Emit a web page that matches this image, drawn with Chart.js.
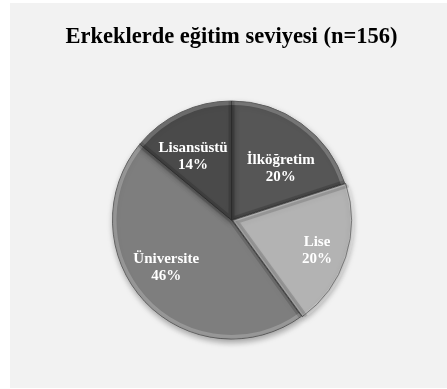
<!DOCTYPE html>
<html lang="tr">
<head>
<meta charset="utf-8">
<title>Erkeklerde eğitim seviyesi</title>
<script src="https://cdn.jsdelivr.net/npm/chart.js@4"></script>
<style>
    html, body { margin: 0; padding: 0; background: #ffffff; }
    #chartBox {
        position: absolute;
        left: 10px;
        top: 3px;
        width: 437px;
        height: 385px;
        background: #f2f2f2;
    }
</style>
</head>
<body>
<div id="chartBox"><canvas id="eduChart" width="437" height="385"></canvas></div>
<script>
// Education level among men, share in percent
const categories = ['İlköğretim', 'Lise', 'Üniversite', 'Lisansüstü'];
const percentages = [20, 20, 46, 14];

const sliceColors = ['#565656', '#b3b3b3', '#7e7e7e', '#4a4a4a'];
const sliceOffsets = [0, 4, 0, 0];
// small pixel nudges so the labels sit where the spreadsheet put them
const labelShift = [[3, 12], [7, 5], [-8, -6], [-5, 8]];

const titleText = 'Erkeklerde eğitim seviyesi (n=156)';
const serif = '"Liberation Serif", "Times New Roman", serif';

//////////////////////////////////////////////
// Title drawn by hand (keeps the exact size)
//////////////////////////////////////////////
const titlePlugin = {
    id: 'bigTitle',
    afterDraw(chart) {
        const ctx = chart.ctx;
        ctx.save();
        ctx.fillStyle = '#000000';
        ctx.font = 'bold 22.5px ' + serif;
        ctx.textAlign = 'center';
        ctx.textBaseline = 'middle';
        ctx.fillText(titleText, chart.chartArea.left + (chart.chartArea.right - chart.chartArea.left) / 2, 34);
        ctx.restore();
    }
};

//////////////////////////////////////////////
// Soft shadow under the pie
//////////////////////////////////////////////
const shadowPlugin = {
    id: 'pieShadow',
    beforeDatasetsDraw(chart) {
        const ctx = chart.ctx;
        ctx.save();
        ctx.shadowColor = 'rgba(0,0,0,0.35)';
        ctx.shadowBlur = 6;
        ctx.shadowOffsetX = 1;
        ctx.shadowOffsetY = 3;
    },
    afterDatasetsDraw(chart) {
        chart.ctx.restore();
    }
};

//////////////////////////////////////////////
// Bevel highlight + value labels
//////////////////////////////////////////////
const bevelLabelPlugin = {
    id: 'bevelLabels',
    afterDatasetsDraw(chart) {
        const ctx = chart.ctx;
        const meta = chart.getDatasetMeta(0);

        meta.data.forEach((arc, i) => {
            const p = arc.getProps(['x', 'y', 'startAngle', 'endAngle', 'outerRadius']);
            const mid = (p.startAngle + p.endAngle) / 2;
            const off = sliceOffsets[i];
            const cx = p.x + Math.cos(mid) * off;
            const cy = p.y + Math.sin(mid) * off;

            // inner rim, lighter on the outer edge, darker on the straight edges
            ctx.save();
            ctx.beginPath();
            ctx.moveTo(cx, cy);
            ctx.arc(cx, cy, p.outerRadius, p.startAngle, p.endAngle);
            ctx.closePath();
            ctx.clip();

            ctx.lineJoin = 'round';
            ctx.strokeStyle = 'rgba(255,255,255,0.2)';
            ctx.lineWidth = 8;
            ctx.beginPath();
            ctx.arc(cx, cy, p.outerRadius, p.startAngle, p.endAngle);
            ctx.stroke();

            ctx.strokeStyle = 'rgba(0,0,0,0.14)';
            ctx.lineWidth = 6;
            ctx.beginPath();
            ctx.moveTo(cx + Math.cos(p.startAngle) * p.outerRadius, cy + Math.sin(p.startAngle) * p.outerRadius);
            ctx.lineTo(cx, cy);
            ctx.lineTo(cx + Math.cos(p.endAngle) * p.outerRadius, cy + Math.sin(p.endAngle) * p.outerRadius);
            ctx.stroke();
            ctx.restore();
        });

        // labels on top of everything
        ctx.save();
        ctx.fillStyle = '#ffffff';
        ctx.font = 'bold 15px ' + serif;
        ctx.textAlign = 'center';
        ctx.textBaseline = 'middle';
        meta.data.forEach((arc, i) => {
            const p = arc.getProps(['x', 'y', 'startAngle', 'endAngle', 'outerRadius']);
            const mid = (p.startAngle + p.endAngle) / 2;
            const r = p.outerRadius * 0.66 + sliceOffsets[i];
            const lx = p.x + Math.cos(mid) * r + labelShift[i][0];
            const ly = p.y + Math.sin(mid) * r + labelShift[i][1];
            ctx.fillText(categories[i], lx, ly - 8.5);
            ctx.fillText(percentages[i] + '%', lx, ly + 8.5);
        });
        ctx.restore();
    }
};

//////////////////////////////////////////////
// Chart Initialization
//////////////////////////////////////////////
function initChart() {
    const ctx = document.getElementById('eduChart').getContext('2d');
    return new Chart(ctx, {
        type: 'pie',
        data: {
            labels: categories,
            datasets: [{
                data: percentages,
                backgroundColor: sliceColors,
                borderColor: 'rgba(45,45,45,0.7)',
                borderWidth: 1,
                offset: sliceOffsets
            }]
        },
        options: {
            responsive: false,
            animation: false,
            layout: {
                padding: { left: 100, right: 94, top: 95, bottom: 46 }
            },
            plugins: {
                legend: { display: false },
                tooltip: { enabled: false },
                title: { display: false }
            }
        },
        plugins: [shadowPlugin, bevelLabelPlugin, titlePlugin]
    });
}

document.addEventListener('DOMContentLoaded', () => {
    initChart();
});
</script>
</body>
</html>
